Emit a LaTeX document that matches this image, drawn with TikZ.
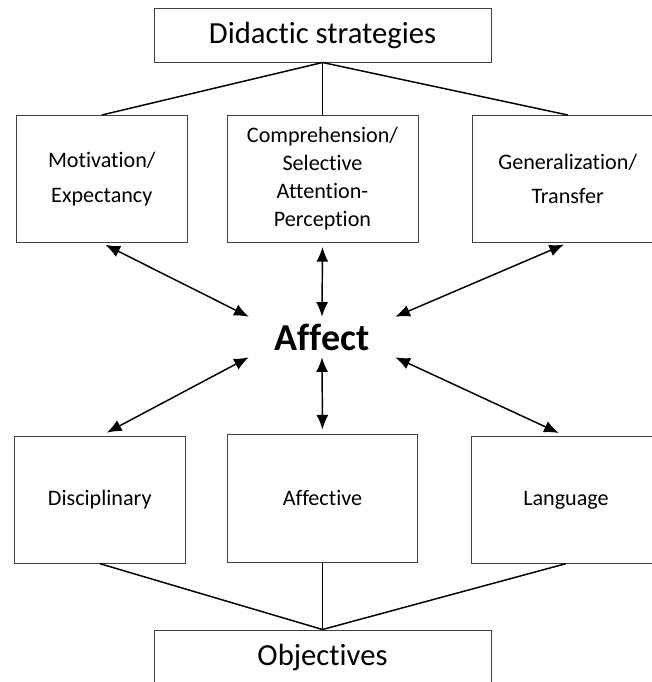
\documentclass[tikz,border=0pt]{standalone}
\usepackage{fontspec}
\setmainfont[Ligatures=NoCommon]{Carlito}
\usetikzlibrary{arrows.meta}
\tikzset{>={Latex[length=11pt,width=9pt]}}
\tikzset{
  box/.style={draw=black!75, line width=0.75pt, align=center, inner sep=2pt,
    font=\fontsize{16.6}{21}\selectfont},
  headbox/.style={draw=black!75, line width=0.75pt, minimum width=252.75pt,
    minimum height=40.5pt, font=\fontsize{23}{27}\selectfont},
  link/.style={line width=1.1pt, black},
}

\begin{document}
\begin{tikzpicture}[x=0.75pt, y=-0.75pt]
    \useasboundingbox (0,0) rectangle (651,682);
    % strategies and objectives
    \node[headbox] (strat) at (322.5, 35) {Didactic strategies};
    \node[headbox] (obj) at (322.5, 657) {Objectives};
    % upper row
    \node[box, minimum width=128.25pt, minimum height=95.25pt] (motiv) at (101.8, 179) {Motivation/\\[5pt]Expectancy};
    \node[box, minimum width=143.25pt, minimum height=95.25pt] (compr) at (322.5, 179) {Comprehension/\\Selective\\Attention-\\Perception};
    \node[box, minimum width=142.5pt, minimum height=95.25pt] (gener) at (567.7, 179) {Generalization/\\[5pt]Transfer};
    % lower row
    \node[box, minimum width=128.25pt, minimum height=94.7pt] (disc) at (99.8, 500) {Disciplinary};
    \node[box, minimum width=142.5pt, minimum height=96pt] (affv) at (322.5, 498) {Affective};
    \node[box, minimum width=142.5pt, minimum height=94.7pt] (lang) at (566, 500) {Language};
    % centre
    \node[font=\fontsize{28.5}{30}\selectfont\bfseries, minimum width=109.5pt, minimum height=30pt, inner sep=0pt] (affect) at (322, 337) {Affect};
    \draw[link] (strat.south) -- (motiv.north);
    \draw[link] (strat.south) -- (compr.north);
    \draw[link] (strat.south) -- (gener.north);
    \draw[link] (disc.south) -- (obj.north);
    \draw[link] (affv.south) -- (obj.north);
    \draw[link] (lang.south) -- (obj.north);
    \draw[link, <->, shorten <=3pt] (motiv.south) -- (affect.north west);
    \draw[link, <->, shorten <=3pt] (compr.south) -- (affect.north);
    \draw[link, <->, shorten <=3pt] (gener.south) -- (affect.north east);
    \draw[link, <->, shorten >=6pt] (affect.south west) -- (disc.north);
    \draw[link, <->, shorten >=3pt] (affect.south) -- (affv.north);
    \draw[link, <->, shorten >=6pt] (affect.south east) -- (lang.north);
\end{tikzpicture}
\end{document}
